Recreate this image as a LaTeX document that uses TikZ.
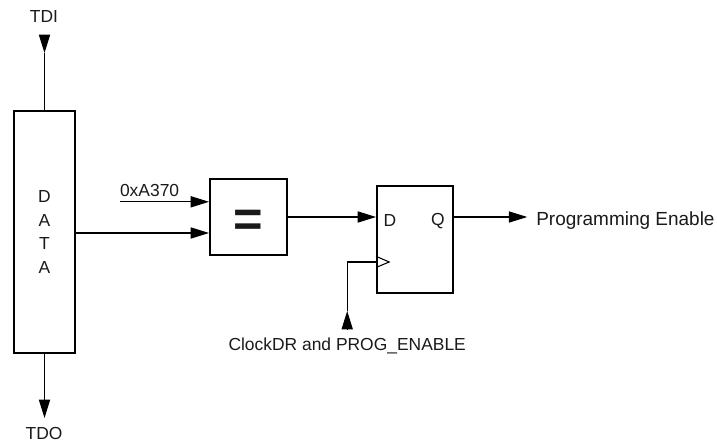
\documentclass[tikz,border=0pt]{standalone}
\usepackage{fontspec}
\setmainfont{Liberation Sans}
\usetikzlibrary{arrows.meta, positioning, calc}
\definecolor{darkline}{HTML}{1A1A1A}
\tikzset{
  block/.style={rectangle, draw=black, fill=white, line width=1.4pt, inner sep=0pt},
  label/.style={font=\fontsize{12.4}{17}\selectfont, text=darkline, inner sep=0pt},
  wire/.style={line width=0.75pt, draw=black},
  flow/.style={-{Triangle[length=4.6mm, width=2.8mm]}, line width=0.75pt, draw=black},
}

\begin{document}
\begin{tikzpicture}
\useasboundingbox (0,0) rectangle (17.925,11.025);

% Blocks
\node[block, minimum width=1.525cm, minimum height=6.05cm, align=center, label] (data) at (1.1125,5.225)
  {D\\A\\T\\A};
\node[block, minimum width=1.925cm, minimum height=1.9cm] (equal) at (6.2125,5.6) {};
\node[font=\fontsize{36}{36}\bfseries\selectfont, text=darkline, inner sep=0pt] (eqsign) at (6.2125,5.45) {=};
\node[block, minimum width=1.9cm, minimum height=2.675cm] (reg) at (10.375,5.0375) {};

% Register pins
\node[label] (regd) at (9.75,5.5) {D};
\node[label] (regq) at (10.95,5.5) {Q};
\coordinate (clktop) at ($(reg.west)+(0,-0.42)$);
\coordinate (clkbot) at ($(reg.west)+(0,-0.70)$);
\coordinate (clktip) at ($(reg.west)+(0.33,-0.5625)$);
\draw[line width=0.75pt] (clktop) -- (clktip) -- (clkbot);

% Labels
\node[label] (tdi) at (1.1,10.6) {TDI};
\node[label] (tdo) at (1.1,0.2) {TDO};
\node[label] (value) at (3.74,6.27) {0xA370};
\node[label] (clock) at (8.68,2.38) {ClockDR and PROG\_ENABLE};
\node[label, font=\fontsize{13.5}{16}\selectfont, anchor=west] (enable) at (13.4,5.5) {Programming Enable};

% Free ends of the wires
\coordinate (tdistart) at (1.1125,10.125);
\coordinate (tdihead) at (1.1125,9.7);
\coordinate (tdohead) at (1.1125,0.575);
\coordinate (tdostart) at (1.1125,1.05);
\coordinate (valuestart) at (3.0,5.98);
\coordinate (clkhead) at (8.68,3.25);
\coordinate (clkstart) at (8.68,2.8);
\coordinate (clkbend) at (clkhead|-clktip);
\coordinate (enablehead) at (13.18,5.6);

% Flow
\draw[flow] (tdistart) -- (tdihead);
\draw[wire] (tdihead) -- (data.north);
\draw[wire] (data.south) -- (tdostart);
\draw[flow] (tdostart) -- (tdohead);
\draw[flow] (valuestart) -- (valuestart-|equal.west);
\draw[flow] (data.east|-0,5.2) -- (equal.west|-0,5.2);
\draw[flow] (equal.east) -- (reg.west|-equal.east);
\draw[flow] (reg.east|-equal.east) -- (enablehead);
\draw[flow] (clkstart) -- (clkhead);
\draw[wire] (clkhead) -- (clkbend) -- (reg.west|-clkbend);

\end{tikzpicture}
\end{document}
